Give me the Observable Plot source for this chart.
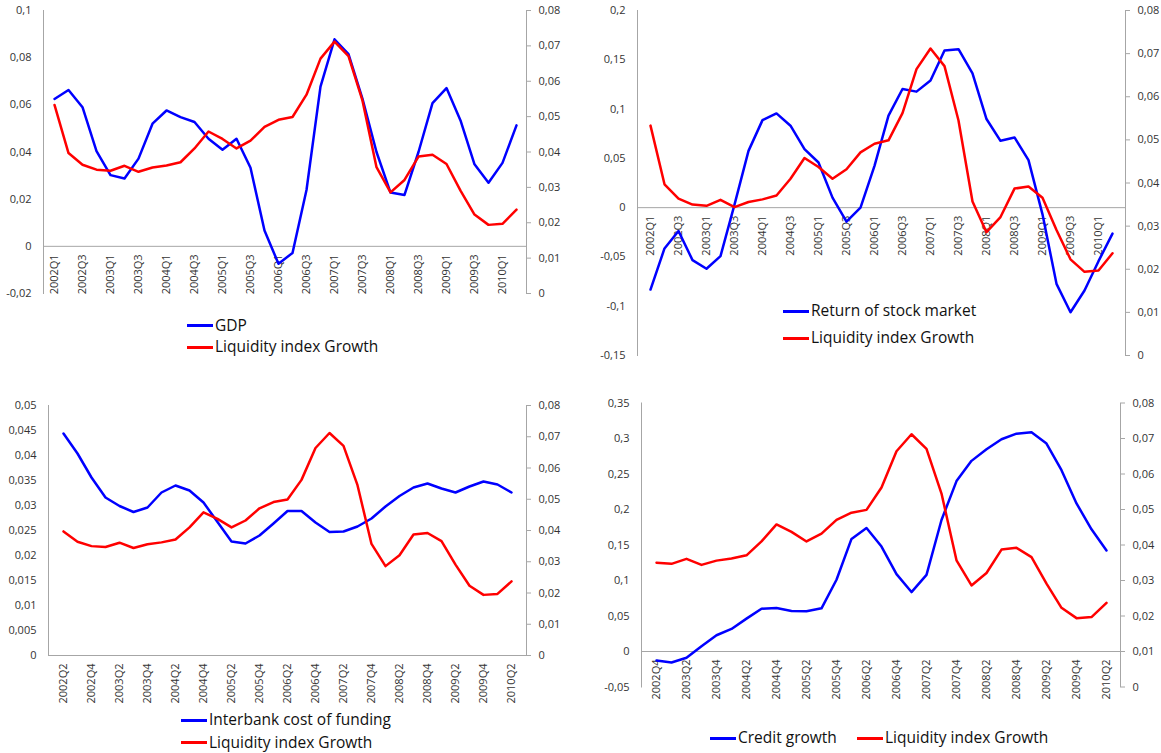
<!DOCTYPE html>
<html><head><meta charset="utf-8">
<script src="https://cdn.jsdelivr.net/npm/d3@7"></script>
<script src="https://cdn.jsdelivr.net/npm/@observablehq/plot@0.6"></script>
<style>
body{margin:0;background:#fff;}
#root{position:relative;width:1161px;height:753px;font-family:"Open Sans",sans-serif;overflow:hidden;}
.panel{position:absolute;}
.panel svg{overflow:visible;display:block;}
.leg{position:absolute;display:flex;align-items:center;height:20px;font-size:15.5px;color:#111;white-space:nowrap;line-height:1;}
.sw{display:inline-block;height:3px;width:26px;margin-right:2px;}
</style></head><body><div id="root"></div>
<script>
// ---- data ----
const quarters = ["2002Q1","2002Q2","2002Q3","2002Q4","2003Q1","2003Q2","2003Q3","2003Q4",
  "2004Q1","2004Q2","2004Q3","2004Q4","2005Q1","2005Q2","2005Q3","2005Q4",
  "2006Q1","2006Q2","2006Q3","2006Q4","2007Q1","2007Q2","2007Q3","2007Q4",
  "2008Q1","2008Q2","2008Q3","2008Q4","2009Q1","2009Q2","2009Q3","2009Q4",
  "2010Q1","2010Q2"];
const liquidity = [0.0533,0.0397,0.0364,0.035,0.0347,0.0361,0.0344,0.0356,0.0362,0.0371,0.041,0.0458,
  0.0437,0.041,0.0432,0.0471,0.0491,0.0499,0.0562,0.0664,0.0712,0.0671,0.0545,0.0357,0.0286,0.0321,
  0.0387,0.0392,0.0366,0.0291,0.0223,0.0194,0.0197,0.0237];
const gdp = [0.0625,0.0663,0.059,0.0404,0.0302,0.0288,0.0372,0.052,0.0576,0.0548,0.0527,0.0456,
  0.041,0.0456,0.0333,0.0067,-0.0074,-0.0028,0.0239,0.0677,0.0878,0.0815,0.0625,0.04,0.0228,0.0218,
  0.04,0.0607,0.0671,0.0534,0.0348,0.027,0.0354,0.0513];
const stock = [-0.0831,-0.0414,-0.0237,-0.0532,-0.062,-0.0492,0.003,0.0576,0.0888,0.0956,0.0831,0.0593,
  0.0458,0.0102,-0.0142,0.0,0.0424,0.0933,0.1204,0.1177,0.1289,0.1594,0.1607,0.1363,0.0899,0.0678,
  0.0712,0.0482,-0.0068,-0.0773,-0.1061,-0.0841,-0.0543,-0.0264];
const interbank = [0.0444,0.0404,0.0356,0.0316,0.0299,0.0287,0.0296,0.0326,0.034,0.033,0.0306,0.0267,
  0.0228,0.0224,0.024,0.0264,0.0289,0.0289,0.0266,0.0247,0.0248,0.0258,0.0274,0.0298,0.0319,0.0336,
  0.0344,0.0334,0.0326,0.0338,0.0348,0.0342,0.0326];
const credit = [-0.0126,-0.0154,-0.0089,0.0075,0.0229,0.0318,0.0463,0.0603,0.0613,0.0571,0.0566,0.0608,
  0.101,0.1586,0.174,0.1478,0.109,0.0837,0.108,0.1852,0.24,0.2685,0.2848,0.2989,0.3068,0.3087,0.2928,
  0.2554,0.2086,0.1721,0.1422];
const rightTicks = [0,0.01,0.02,0.03,0.04,0.05,0.06,0.07,0.08];
const ticksGDP = [-0.02,0,0.02,0.04,0.06,0.08,0.1];
const ticksStock = [-0.15,-0.1,-0.05,0,0.05,0.1,0.15,0.2];
const ticksInterbank = [0,0.005,0.01,0.015,0.02,0.025,0.03,0.035,0.04,0.045,0.05];
const ticksCredit = [-0.05,0,0.05,0.1,0.15,0.2,0.25,0.3,0.35];
const nameLiq = "Liquidity index Growth";

// ---- styling ----
const BLUE = "#0000ff", RED = "#ff0000", GRAY = "#a6a6a6", TXT = "#333";
const fmt = d => String(+(+d).toFixed(4)).replace(".", ",");
const root = document.getElementById("root");

function panel(o) {
  const [L0, L1] = o.left, [R0, R1] = o.right;
  const toL = v => L0 + (v - R0) * (L1 - L0) / (R1 - R0);
  const fromL = y => R0 + (y - L0) * (R1 - R0) / (L1 - L0);
  const rows = o.cats.map((q, i) => ({q, b: o.blue[i], r: toL(o.red[i])}));
  const labels = o.cats.filter((d, i) => i % 2 === 0);
  const chart = Plot.plot({
    width: o.w, height: o.h,
    marginLeft: o.m[0], marginRight: o.m[1], marginTop: o.m[2], marginBottom: o.m[3],
    x: {type: "point", domain: o.cats, padding: 0.5, axis: null},
    y: {domain: [L0, L1], axis: null},
    style: {fontFamily: "'Open Sans', sans-serif", fontSize: "11px", color: TXT, background: "transparent", overflow: "visible"},
    marks: [
      Plot.frame({anchor: "left", stroke: GRAY}),
      Plot.frame({anchor: "right", stroke: GRAY}),
      Plot.ruleY([0], {stroke: GRAY}),
      Plot.axisY(o.leftTicks, {anchor: "left", tickSize: 0, tickPadding: 12, tickFormat: fmt}),
      Plot.axisY(rightTicks.map(toL), {anchor: "right", tickSize: 4, tickPadding: 8, stroke: GRAY, tickFormat: d => fmt(fromL(d))}),
      Plot.text(labels, {x: d => d, y: () => 0, rotate: -90, textAnchor: "end", dy: 8, fill: TXT}),
      Plot.line(rows, {x: "q", y: "b", stroke: BLUE, strokeWidth: 2.5, strokeLinejoin: "round"}),
      Plot.line(rows, {x: "q", y: "r", stroke: RED, strokeWidth: 2.5, strokeLinejoin: "round"})
    ]
  });
  const div = document.createElement("div");
  div.className = "panel";
  div.style.left = o.x + "px"; div.style.top = o.y + "px";
  div.appendChild(chart);
  root.appendChild(div);
  o.legend.forEach(([name, color, lx, cy]) => {
    const l = document.createElement("div");
    l.className = "leg";
    l.style.left = lx + "px"; l.style.top = (cy - 10) + "px";
    const s = document.createElement("span");
    s.className = "sw"; s.style.background = color;
    l.appendChild(s);
    l.appendChild(document.createTextNode(name));
    root.appendChild(l);
  });
}

panel({x: 0, y: 0, w: 580, h: 300, m: [43, 54, 10, 7],
  cats: quarters, blue: gdp, red: liquidity, left: [-0.02, 0.1], right: [0, 0.08], leftTicks: ticksGDP,
  legend: [["GDP", BLUE, 187, 325.5], [nameLiq, RED, 187, 347]]});
panel({x: 580, y: 0, w: 581, h: 360, m: [57, 36, 10, 5],
  cats: quarters, blue: stock, red: liquidity, left: [-0.15, 0.2], right: [0, 0.08], leftTicks: ticksStock,
  legend: [["Return of stock market", BLUE, 783, 311], [nameLiq, RED, 783, 338]]});
panel({x: 0, y: 385, w: 580, h: 330, m: [48, 54, 20, 60],
  cats: quarters.slice(1), blue: interbank, red: liquidity.slice(1), left: [0, 0.05], right: [0, 0.08], leftTicks: ticksInterbank,
  legend: [["Interbank cost of funding", BLUE, 181, 720], [nameLiq, RED, 181, 742.5]]});
panel({x: 580, y: 385, w: 581, h: 320, m: [61, 41, 17.5, 18.5],
  cats: quarters.slice(3), blue: credit, red: liquidity.slice(3), left: [-0.05, 0.35], right: [0, 0.08], leftTicks: ticksCredit,
  legend: [["Credit growth", BLUE, 710, 738], [nameLiq, RED, 857, 738]]});
</script></body></html>
